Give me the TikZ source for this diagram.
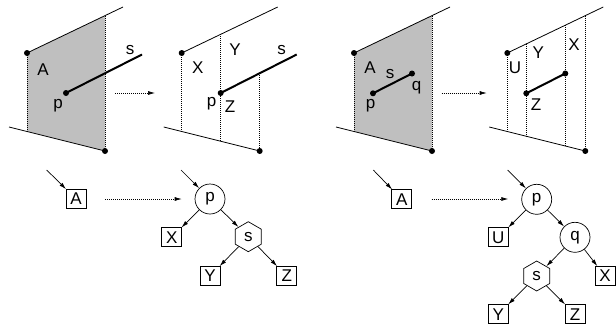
\documentclass[tikz,border=0pt]{standalone}
\usepackage{fontspec}
\setmainfont{Liberation Sans}
\definecolor{planegray}{RGB}{191,191,191}
\usetikzlibrary{arrows.meta,positioning,shapes.geometric}

\tikzset{
  lbl/.style={font=\fontsize{17}{17}\selectfont,inner sep=0pt},
  dot/.style={circle,fill=black,inner sep=0pt,minimum size=6pt},
  leafbox/.style={draw,rectangle,line width=0.7pt,minimum width=20pt,minimum height=19pt,
                  inner sep=0pt,font=\fontsize{17}{17}\selectfont},
  splitnode/.style={draw,circle,line width=0.7pt,minimum size=30pt,inner sep=0pt,
                    font=\fontsize{17}{17}\selectfont},
  segnode/.style={draw,regular polygon,regular polygon sides=6,shape border rotate=30,
                  line width=0.7pt,minimum size=30pt,inner sep=0pt,font=\fontsize{17}{17}\selectfont},
  planeline/.style={line width=0.8pt},
  projline/.style={dash pattern=on 1pt off 1pt,line width=0.7pt},
  segline/.style={line width=2pt},
  treearrow/.style={-{Latex[length=7pt,width=4pt]},line width=0.7pt},
  maparrow/.style={dash pattern=on 1pt off 1pt,-{Latex[length=7pt,width=4pt]},line width=0.7pt}
}

\begin{document}
\begin{tikzpicture}[x=1pt,y=-1pt]
\useasboundingbox (0,0) rectangle (616,327);

% plane A cut by segment s
\begin{scope}
  \coordinate (cla) at (27,53);
  \coordinate (cua) at (105,15.6);
  \coordinate (cra) at (105,151);
  \coordinate (cfa) at (27,131.25);
  \fill[planegray] (cla) -- (cua) -- (cra) -- (cfa) -- cycle;
  \coordinate (ta) at (123,7);
  \coordinate (ba) at (9,127);
  \draw[planeline] (cla) -- (ta);
  \draw[planeline] (ba) -- (cra);
  \draw[projline] (cla) -- (cfa);
  \draw[projline] (cua) -- (cra);
  \node[dot] (la) at (cla) {};
  \node[dot] (ra) at (cra) {};
  \coordinate (sa) at (142,54.5);
  \draw[segline] (66,93) -- (sa);
  \node[dot] (pa) at (66,93) {};
  \node[lbl] (Aa) at (43,70) {A};
  \node[lbl] (sla) at (130,50) {s};
  \node[lbl] (pla) at (58,106) {p};
  \coordinate (mfa) at (115,93);
\end{scope}

% after splitting at p
\begin{scope}[xshift=154.7pt]
  \coordinate (clb) at (27,53);
  \coordinate (crb) at (105,151);
  \coordinate (tb) at (123,7);
  \coordinate (bb) at (9,127);
  \draw[planeline] (clb) -- (tb);
  \draw[planeline] (bb) -- (crb);
  \draw[projline] (clb) -- (27,131.25);
  \draw[projline] (66,34.3) -- (66,141.25);
  \draw[projline] (105,73.2) -- (crb);
  \coordinate (sb) at (142,54.5);
  \draw[segline] (66,93) -- (sb);
  \node[dot] (lb) at (clb) {};
  \node[dot] (rb) at (crb) {};
  \node[dot] (pb) at (66,93) {};
  \node[lbl] (Xb) at (43,68) {X};
  \node[lbl] (Yb) at (80.3,50) {Y};
  \node[lbl] (slb) at (127,50) {s};
  \node[lbl] (plb) at (57,104) {p};
  \node[lbl] (Zb) at (75.3,107) {Z};
  \coordinate (mtb) at (0.3,93);
\end{scope}

% plane A with the short segment s from p to q
\begin{scope}[xshift=327pt]
  \coordinate (clc) at (27,53);
  \coordinate (cuc) at (105,15.6);
  \coordinate (crc) at (105,151);
  \coordinate (cfc) at (27,131.25);
  \fill[planegray] (clc) -- (cuc) -- (crc) -- (cfc) -- cycle;
  \coordinate (tc) at (123,7);
  \coordinate (bc) at (9,127);
  \draw[planeline] (clc) -- (tc);
  \draw[planeline] (bc) -- (crc);
  \draw[projline] (clc) -- (cfc);
  \draw[projline] (cuc) -- (crc);
  \node[dot] (lc) at (clc) {};
  \node[dot] (rc) at (crc) {};
  \node[dot] (pc) at (46,93.3) {};
  \node[dot] (qc) at (85,73.5) {};
  \draw[segline] (pc.center) -- (qc.center);
  \node[lbl] (Ac) at (43,68) {A};
  \node[lbl] (slc) at (63,74) {s};
  \node[lbl] (qlc) at (89.7,88) {q};
  \node[lbl] (plc) at (43.7,106) {p};
  \coordinate (mfc) at (114.7,93);
\end{scope}

% after splitting at p and q
\begin{scope}[xshift=480.3pt]
  \coordinate (cld) at (27,53);
  \coordinate (crd) at (105,151);
  \coordinate (td) at (123,7);
  \coordinate (bd) at (9,127);
  \draw[planeline] (cld) -- (td);
  \draw[planeline] (bd) -- (crd);
  \draw[projline] (cld) -- (27,131.25);
  \draw[projline] (46,43.9) -- (46,136.25);
  \draw[projline] (85,25.2) -- (85,146);
  \draw[projline] (105,15.6) -- (crd);
  \node[dot] (ld) at (cld) {};
  \node[dot] (rd) at (crd) {};
  \node[dot] (pd) at (46,93.3) {};
  \node[dot] (qd) at (85,73.5) {};
  \draw[segline] (pd.center) -- (qd.center);
  \node[lbl] (Ud) at (34.7,68) {U};
  \node[lbl] (Yd) at (58,53) {Y};
  \node[lbl] (Xd) at (93.7,45) {X};
  \node[lbl] (Zd) at (55.7,105) {Z};
  \coordinate (mtd) at (6.4,93);
\end{scope}

\draw[maparrow] (mfa) -- (mtb);
\draw[maparrow] (mfc) -- (mtd);

% trees
\node[leafbox] (tA1) at (76,199) {A};
\coordinate (inA1) at (46.7,170);
\draw[treearrow] (inA1) -- (tA1);
\node[splitnode] (tp1) at (210,199) {p};
\coordinate (inp1) at (181,170);
\draw[treearrow] (inp1) -- (tp1);
\coordinate (tm1) at (105,199);
\coordinate (tn1) at (181.7,199);
\draw[maparrow] (tm1) -- (tn1);
\node[leafbox] (tX1) at (171.7,237.3) {X};
\node[segnode] (ts1) at (248.3,236.7) {s};
\node[leafbox] (tY1) at (210,276) {Y};
\node[leafbox] (tZ1) at (286.7,276) {Z};
\draw[treearrow] (tp1) -- (tX1);
\draw[treearrow] (tp1) -- (ts1);
\draw[treearrow] (ts1) -- (tY1);
\draw[treearrow] (ts1) -- (tZ1);

\node[leafbox] (tA2) at (401.7,199.3) {A};
\coordinate (inA2) at (373.3,170);
\draw[treearrow] (inA2) -- (tA2);
\node[splitnode] (tp2) at (536.7,199.3) {p};
\coordinate (inp2) at (507.7,170);
\draw[treearrow] (inp2) -- (tp2);
\coordinate (tm2) at (431.7,199);
\coordinate (tn2) at (508.3,199);
\draw[maparrow] (tm2) -- (tn2);
\node[leafbox] (tU2) at (498.3,237.3) {U};
\node[splitnode] (tq2) at (575,237.3) {q};
\node[segnode] (ts2) at (536.7,276) {s};
\node[leafbox] (tX2) at (605,276) {X};
\node[leafbox] (tY2) at (498.3,314.3) {Y};
\node[leafbox] (tZ2) at (575,314.3) {Z};
\draw[treearrow] (tp2) -- (tU2);
\draw[treearrow] (tp2) -- (tq2);
\draw[treearrow] (tq2) -- (ts2);
\draw[treearrow] (tq2) -- (tX2);
\draw[treearrow] (ts2) -- (tY2);
\draw[treearrow] (ts2) -- (tZ2);
\end{tikzpicture}
\end{document}
